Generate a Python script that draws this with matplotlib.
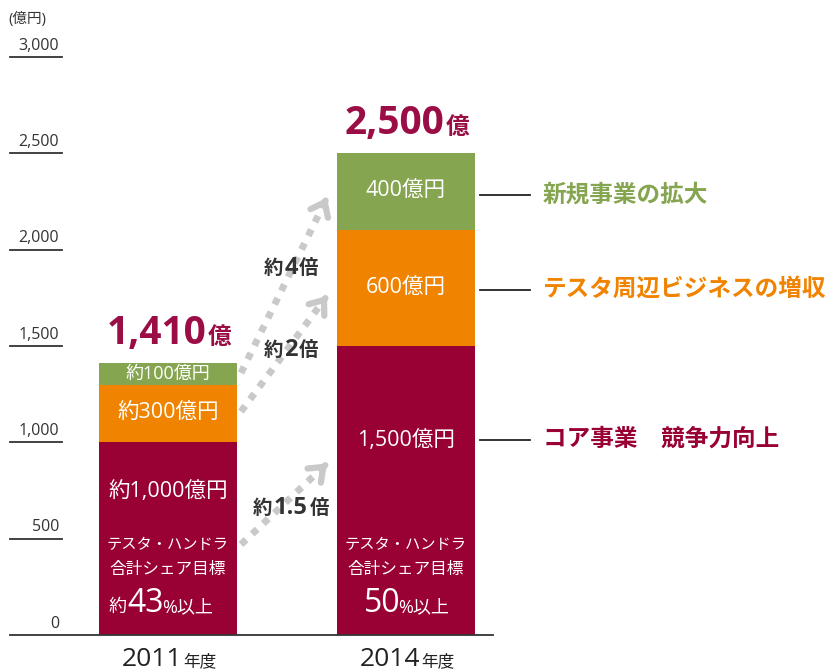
import matplotlib
matplotlib.use("Agg")
import matplotlib.pyplot as plt

plt.rcParams['font.family'] = ['Open Sans', 'Noto Sans CJK JP', 'DejaVu Sans']

# ---- data ----
years = ["2011", "2014"]
year_suffix = "年度"
core = [1000, 1500]
peripheral = [300, 600]
new_biz = [110, 400]
totals = ["1,410", "2,500"]
core_labels = ["約1,000億円", "1,500億円"]
peri_labels = ["約300億円", "600億円"]
new_labels = ["約100億円", "400億円"]
share_prefix = ["約", ""]
share_values = ["43", "50"]
yticks = [0, 500, 1000, 1500, 2000, 2500, 3000]
ytick_labels = ["0", "500", "1,000", "1,500", "2,000", "2,500", "3,000"]
growth_values = ["1.5", "2", "4"]
growth_from = [470, 1160, 1360]   # y value at arrow start (2011 side)
growth_to = [890, 1760, 2270]     # y value at arrow tip (2014 side)
growth_text_y = [660, 1480, 1905]
right_labels = ["コア事業　競争力向上", "テスタ周辺ビジネスの増収", "新規事業の拡大"]

RED = "#990033"
ORANGE = "#F08300"
GREEN = "#86A550"
TXT_RED = "#9B0E45"

W, H = 829, 672
fig = plt.figure(figsize=(W / 100, H / 100), dpi=100)
ax = fig.add_axes([0, 37 / H, 1, 578 / H])
ax.set_ylim(0, 3000)
c0, step = 168, 238
def px(x):
    return (x - c0) / step
ax.set_xlim(px(0), px(W))
ax.axis("off")

x = [0, 1]
width = 138 / step
ax.bar(x, core, width, color=RED, zorder=2)
ax.bar(x, peripheral, width, bottom=core, color=ORANGE, zorder=2)
bottoms3 = [a + b for a, b in zip(core, peripheral)]
ax.bar(x, new_biz, width, bottom=bottoms3, color=GREEN, zorder=2)

# baseline and y ticks
ax.plot([px(10), px(493)], [0, 0], color="#333333", lw=1.3, zorder=3, clip_on=False)
for v, lab in zip(yticks, ytick_labels):
    if v > 0:
        ax.plot([px(10), px(62)], [v, v], color="#333333", lw=1.3, clip_on=False)
    ax.text(px(59), v + 18, lab, ha="right", va="bottom", fontsize=11.5, color="#333333")
fig.text(8 / W, 1 - 19 / H, "(億円)", ha="left", va="center", fontsize=10.5, color="#333333")

# labels inside bars
fs = 15.5
for i in range(2):
    ax.text(x[i], core[i] + peripheral[i] + new_biz[i] / 2, new_labels[i], ha="center", va="center",
            color="white", fontsize=fs if i else 13)
    ax.text(x[i], core[i] + peripheral[i] / 2, peri_labels[i], ha="center", va="center",
            color="white", fontsize=fs)
ax.text(x[0], 745, core_labels[0], ha="center", va="center", color="white", fontsize=fs)
ax.text(x[1], 1012, core_labels[1], ha="center", va="center", color="white", fontsize=fs)
for i in range(2):
    ax.text(x[i], 462, "テスタ・ハンドラ", ha="center", va="center", color="white", fontsize=11)
    ax.text(x[i], 337, "合計シェア目標", ha="center", va="center", color="white", fontsize=12)
    t = ax.text(x[i] + (px(c0 - 22) if i == 0 else px(c0 - 24)), 120, share_values[i],
                ha="center", va="baseline", color="white", fontsize=23)
    ax.annotate("%以上", xy=(1, 120), xycoords=(t, "data"), xytext=(-1.5, 0), textcoords="offset points",
                ha="left", va="baseline", color="white", fontsize=13)
    if share_prefix[i]:
        ax.annotate(share_prefix[i], xy=(0, 120), xycoords=(t, "data"), xytext=(-1, 0),
                    textcoords="offset points", ha="right", va="baseline", color="white", fontsize=13)

# totals
for i in range(2):
    tot = core[i] + peripheral[i] + new_biz[i]
    t = ax.text(x[i] + px(c0 + 38), tot + 100, totals[i], ha="right", va="baseline",
                color=TXT_RED, fontsize=28, fontweight="bold")
    ax.annotate("億", xy=(1, tot + 100), xycoords=(t, "data"), xytext=(1, 0), textcoords="offset points",
                ha="left", va="baseline", color=TXT_RED, fontsize=17, fontweight="bold")

# years
for i in range(2):
    t = ax.text(x[i] + px(c0 + 14), -160, years[i], ha="right", va="baseline",
                color="#222222", fontsize=19)
    ax.annotate(year_suffix, xy=(1, -160), xycoords=(t, "data"), xytext=(1, 0), textcoords="offset points",
                ha="left", va="baseline", color="#222222", fontsize=12, annotation_clip=False)

# growth arrows
x_start = x[0] + width / 2 + px(c0 + 4)
x_end = x[1] - width / 2 - px(c0 + 10)
GRAY = "#C9C9C9"
for y0, y1, val, ty in zip(growth_from, growth_to, growth_values, growth_text_y):
    ax.annotate("", xy=(x_end, y1), xytext=(x_start, y0),
                arrowprops=dict(arrowstyle="-", lw=5, color=GRAY, linestyle=(0, (1, 1.2)),
                                shrinkA=0, shrinkB=6, capstyle="butt"))
    dxv, dyv = x_end - x_start, y1 - y0
    ax.annotate("", xy=(x_end, y1), xytext=(x_end - dxv * 0.02, y1 - dyv * 0.02),
                arrowprops=dict(arrowstyle="->,head_length=0.9,head_width=0.7", lw=4.5, color=GRAY,
                                shrinkA=0, shrinkB=0))
    t = ax.text(px(291), ty - 30, val, ha="center", va="baseline", fontsize=17,
                fontweight="bold", color="#333333")
    ax.annotate("約", xy=(0, ty - 30), xycoords=(t, "data"), xytext=(-1, 0), textcoords="offset points",
                ha="right", va="baseline", fontsize=14, fontweight="bold", color="#333333")
    ax.annotate("倍", xy=(1, ty - 30), xycoords=(t, "data"), xytext=(1, 0), textcoords="offset points",
                ha="left", va="baseline", fontsize=14, fontweight="bold", color="#333333")

# right-side labels
segs_mid = [1012, 1790, 2283]
colors_r = [RED, ORANGE, GREEN]
for yv, lab, col in zip(segs_mid, right_labels, colors_r):
    ax.plot([px(480), px(530)], [yv, yv], color="#222222", lw=1.3, clip_on=False)
    ax.text(px(543), yv, lab, ha="left", va="center", fontsize=17, fontweight="bold", color=col)

fig.savefig("out.png", dpi=100, facecolor="white")
